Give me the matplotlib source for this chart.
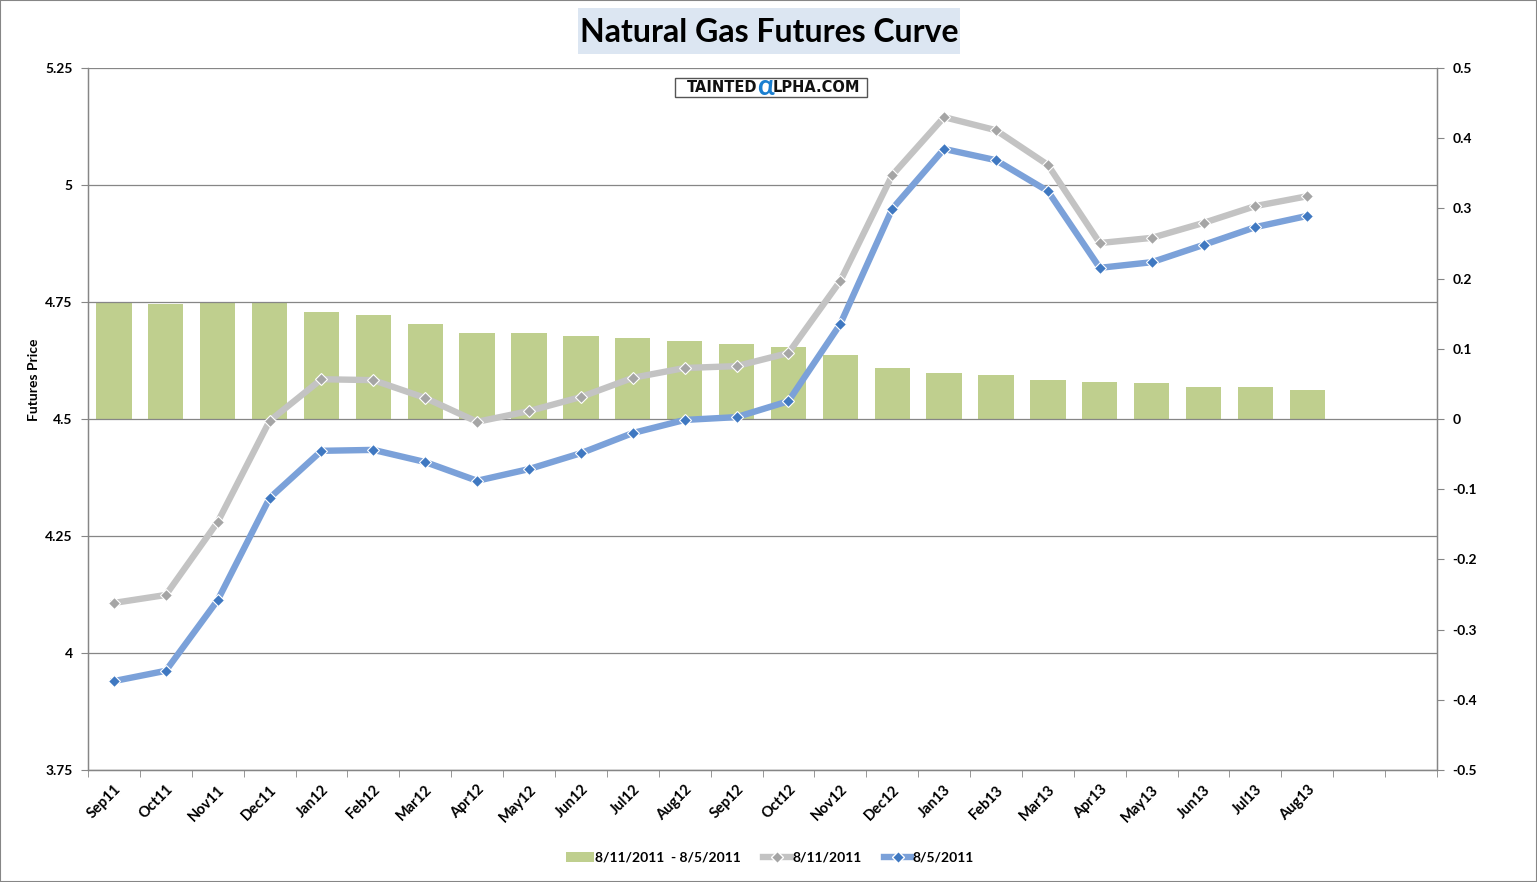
import numpy as np
import matplotlib
matplotlib.use("Agg")
import matplotlib.pyplot as plt
from matplotlib.lines import Line2D
from matplotlib.patches import Patch, Rectangle
from matplotlib.ticker import FuncFormatter

plt.rcParams['font.family'] = ['Lato', 'DejaVu Sans']

months = ['Sep11', 'Oct11', 'Nov11', 'Dec11', 'Jan12', 'Feb12', 'Mar12', 'Apr12',
          'May12', 'Jun12', 'Jul12', 'Aug12', 'Sep12', 'Oct12', 'Nov12', 'Dec12',
          'Jan13', 'Feb13', 'Mar13', 'Apr13', 'May13', 'Jun13', 'Jul13', 'Aug13']
n_slots = 26  # two empty categories at the end

curve_0811 = [4.107, 4.124, 4.280, 4.496, 4.585, 4.583, 4.545, 4.494,
              4.517, 4.547, 4.588, 4.609, 4.613, 4.641, 4.795, 5.021,
              5.145, 5.117, 5.043, 4.876, 4.887, 4.919, 4.955, 4.976]
curve_0805 = [3.940, 3.962, 4.113, 4.331, 4.432, 4.434, 4.408, 4.368,
              4.393, 4.427, 4.470, 4.498, 4.504, 4.538, 4.703, 4.949,
              5.077, 5.053, 4.987, 4.823, 4.835, 4.872, 4.910, 4.934]
diff = [0.167, 0.164, 0.167, 0.167, 0.152, 0.148, 0.135, 0.123,
        0.123, 0.118, 0.115, 0.111, 0.107, 0.103, 0.091, 0.073,
        0.066, 0.063, 0.056, 0.053, 0.051, 0.046, 0.046, 0.041]

left_ticks = [3.75, 4, 4.25, 4.5, 4.75, 5, 5.25]
right_ticks = [-0.5, -0.4, -0.3, -0.2, -0.1, 0, 0.1, 0.2, 0.3, 0.4, 0.5]

axis_grey = '#868686'
bar_col = '#bfcf8e'
grey_line = '#c3c3c3'
grey_mark = '#a5a5a5'
blue_line = '#7ba1d9'
blue_mark = '#3f78c1'

W, H = 1537, 882
fig = plt.figure(figsize=(W / 100, H / 100), dpi=100)
ax = fig.add_axes([88 / W, 1 - 770 / H, (1437 - 88) / W, (770 - 68) / H])
ax2 = ax.twinx()
ax.set_zorder(2)
ax.patch.set_visible(False)
ax2.set_zorder(1)

x = np.arange(len(months))

# bars: difference, right axis
ax2.bar(x, diff, width=0.68, color=bar_col, zorder=2)
ax2.set_ylim(-0.5, 0.5)
ax2.set_yticks(right_ticks)
ax2.yaxis.set_major_formatter(FuncFormatter(lambda v, p: f"{v:g}" if abs(v) > 1e-9 else "0"))

# lines: left axis
ax.plot(x, curve_0811, color=grey_line, lw=4.6, marker='D', ms=6.5,
        mfc=grey_mark, mec='white', mew=0.8, solid_joinstyle='round', zorder=3)
ax.plot(x, curve_0805, color=blue_line, lw=4.6, marker='D', ms=6.5,
        mfc=blue_mark, mec='white', mew=0.8, solid_joinstyle='round', zorder=4)
ax.set_ylim(3.75, 5.25)
ax.set_yticks(left_ticks)
ax.yaxis.set_major_formatter(FuncFormatter(lambda v, p: f"{v:g}"))
ax.grid(axis='y', color=axis_grey, lw=0.9, zorder=0)
ax.set_xlim(-0.5, n_slots - 0.5)

ax.set_xticks(x)
ax.set_xticklabels(months, rotation=45, ha='right', rotation_mode='anchor',
                   fontsize=10.5, fontweight='bold')
ax.set_xticks(np.arange(-0.5, n_slots, 1), minor=True)
ax.tick_params(axis='x', which='major', length=0, pad=9)
ax.tick_params(axis='x', which='minor', length=5, color=axis_grey, direction='out')
ax.tick_params(axis='y', length=5, color=axis_grey, labelsize=10, pad=6)
ax2.tick_params(axis='y', length=5, color=axis_grey, labelsize=10, pad=6)
for t in ax.get_yticklabels() + ax2.get_yticklabels():
    t.set_fontweight('bold')

for a in (ax, ax2):
    a.spines['top'].set_visible(False)
    for s in ('left', 'right', 'bottom'):
        a.spines[s].set_color(axis_grey)
        a.spines[s].set_linewidth(0.9)

ax.set_ylabel('Futures Price', fontsize=10, fontweight='bold')
ax.yaxis.set_label_coords(40 / W - 88 / W, 0.5, transform=fig.transFigure)
ax.yaxis.label.set_position((40 / W, 1 - 380 / H))

# title in shaded box
fig.patches.append(Rectangle((578 / W, 1 - 54 / H), 382 / W, 46 / H,
                             transform=fig.transFigure, fc='#dce6f2', ec='none'))
fig.text(769 / W, 1 - 32 / H, 'Natural Gas Futures Curve', ha='center', va='center',
         fontsize=23, fontweight='bold', color='black')

# watermark
fig.patches.append(Rectangle((675 / W, 1 - 97 / H), 192 / W, 19 / H,
                             transform=fig.transFigure, fc='white', ec='#555555', lw=1))
fig.text(757 / W, 1 - 88 / H, 'TAINTED', ha='right', va='center', fontsize=10.5,
         fontweight='bold', fontfamily=['DejaVu Sans'], color='#111111')
fig.text(765 / W, 1 - 87 / H, 'α', ha='center', va='center', fontsize=20,
         fontweight='bold', color='#1a7fd0')
fig.text(773 / W, 1 - 88 / H, 'LPHA.COM', ha='left', va='center', fontsize=10.5,
         fontweight='bold', fontfamily=['DejaVu Sans'], color='#111111')

# legend
handles = [Patch(fc=bar_col, ec='none'),
           Line2D([], [], color=grey_line, lw=4.6, marker='D', ms=6, mfc=grey_mark, mec='white'),
           Line2D([], [], color=blue_line, lw=4.6, marker='D', ms=6, mfc=blue_mark, mec='white')]
labels = ['8/11/2011  - 8/5/2011', '8/11/2011', '8/5/2011']
fig.legend(handles, labels, loc='center', bbox_to_anchor=(770 / W, 1 - 858 / H),
           ncol=3, frameon=False, handlelength=2.0, handletextpad=0.1, columnspacing=1.6,
           prop=dict(size=10, weight='bold'))

# outer border
fig.patches.append(Rectangle((0, 0), 1, 1, transform=fig.transFigure,
                             fc='none', ec=axis_grey, lw=1.5))

fig.savefig('out.png', dpi=100)
